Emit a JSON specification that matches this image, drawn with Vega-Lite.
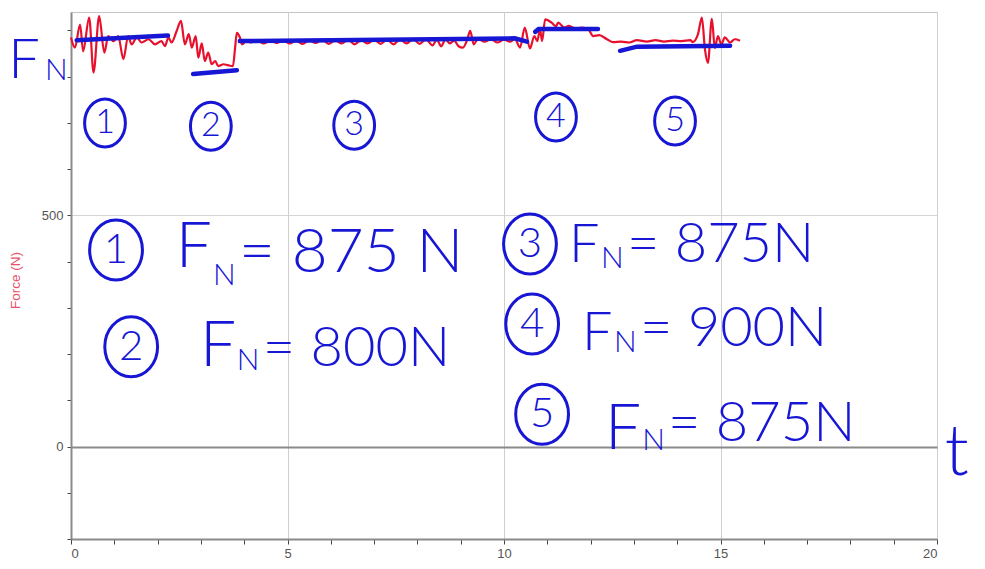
{
  "$schema": "https://vega.github.io/schema/vega-lite/v6.json",
  "width": 866,
  "height": 527,
  "autosize": {"type": "none"},
  "padding": {"left": 71, "top": 12, "right": 48, "bottom": 30},
  "background": "white",
  "config": {
    "view": {"stroke": "#c4c4c4", "strokeWidth": 1},
    "axis": {"labelFont": "Liberation Sans", "titleFont": "Liberation Sans"}
  },
  "datasets": {
    "force": [
      {"t": 0.00, "F": 885}, {"t": 0.09, "F": 863}, {"t": 0.21, "F": 913}, {"t": 0.28, "F": 855},
      {"t": 0.42, "F": 928}, {"t": 0.52, "F": 809}, {"t": 0.65, "F": 931}, {"t": 0.77, "F": 852},
      {"t": 0.86, "F": 888}, {"t": 0.98, "F": 877}, {"t": 1.09, "F": 888}, {"t": 1.21, "F": 838},
      {"t": 1.32, "F": 888}, {"t": 1.40, "F": 870}, {"t": 1.52, "F": 885}, {"t": 1.63, "F": 874},
      {"t": 1.79, "F": 881}, {"t": 1.94, "F": 870}, {"t": 2.09, "F": 877}, {"t": 2.17, "F": 866},
      {"t": 2.25, "F": 885}, {"t": 2.32, "F": 874}, {"t": 2.44, "F": 899}, {"t": 2.54, "F": 921},
      {"t": 2.63, "F": 870}, {"t": 2.72, "F": 892}, {"t": 2.79, "F": 863}, {"t": 2.88, "F": 888},
      {"t": 2.94, "F": 841}, {"t": 3.02, "F": 872}, {"t": 3.09, "F": 834}, {"t": 3.17, "F": 852},
      {"t": 3.25, "F": 827}, {"t": 3.33, "F": 834}, {"t": 3.40, "F": 823}, {"t": 3.52, "F": 827},
      {"t": 3.62, "F": 825}, {"t": 3.74, "F": 823}, {"t": 3.79, "F": 863}, {"t": 3.83, "F": 895},
      {"t": 3.90, "F": 885}, {"t": 3.95, "F": 870}, {"t": 4.05, "F": 878}, {"t": 4.15, "F": 874},
      {"t": 4.30, "F": 879}, {"t": 4.45, "F": 872}, {"t": 4.60, "F": 878}, {"t": 4.75, "F": 873},
      {"t": 4.90, "F": 879}, {"t": 5.05, "F": 872}, {"t": 5.20, "F": 878}, {"t": 5.35, "F": 871},
      {"t": 5.50, "F": 879}, {"t": 5.65, "F": 873}, {"t": 5.80, "F": 880}, {"t": 5.95, "F": 871},
      {"t": 6.10, "F": 879}, {"t": 6.25, "F": 872}, {"t": 6.40, "F": 880}, {"t": 6.55, "F": 870},
      {"t": 6.70, "F": 879}, {"t": 6.85, "F": 872}, {"t": 7.00, "F": 880}, {"t": 7.15, "F": 871},
      {"t": 7.30, "F": 880}, {"t": 7.45, "F": 870}, {"t": 7.60, "F": 881}, {"t": 7.75, "F": 872},
      {"t": 7.90, "F": 882}, {"t": 8.05, "F": 871}, {"t": 8.20, "F": 881}, {"t": 8.35, "F": 868},
      {"t": 8.45, "F": 880}, {"t": 8.55, "F": 866}, {"t": 8.65, "F": 881}, {"t": 8.75, "F": 872},
      {"t": 8.85, "F": 878}, {"t": 8.95, "F": 866}, {"t": 9.05, "F": 863}, {"t": 9.15, "F": 880},
      {"t": 9.22, "F": 899}, {"t": 9.30, "F": 870}, {"t": 9.40, "F": 882}, {"t": 9.55, "F": 876},
      {"t": 9.70, "F": 881}, {"t": 9.85, "F": 874}, {"t": 10.00, "F": 880}, {"t": 10.15, "F": 876},
      {"t": 10.25, "F": 882}, {"t": 10.37, "F": 863}, {"t": 10.48, "F": 906}, {"t": 10.60, "F": 861},
      {"t": 10.70, "F": 888}, {"t": 10.77, "F": 877}, {"t": 10.83, "F": 903}, {"t": 10.88, "F": 877},
      {"t": 10.95, "F": 924}, {"t": 11.10, "F": 917}, {"t": 11.20, "F": 909}, {"t": 11.25, "F": 917},
      {"t": 11.40, "F": 906}, {"t": 11.50, "F": 910}, {"t": 11.65, "F": 904}, {"t": 11.80, "F": 906},
      {"t": 11.95, "F": 902}, {"t": 12.06, "F": 888}, {"t": 12.20, "F": 890}, {"t": 12.38, "F": 881},
      {"t": 12.52, "F": 875}, {"t": 12.70, "F": 876}, {"t": 12.90, "F": 874}, {"t": 13.07, "F": 879},
      {"t": 13.30, "F": 876}, {"t": 13.50, "F": 879}, {"t": 13.70, "F": 876}, {"t": 13.90, "F": 878},
      {"t": 14.10, "F": 877}, {"t": 14.30, "F": 879}, {"t": 14.36, "F": 875}, {"t": 14.48, "F": 892},
      {"t": 14.57, "F": 928}, {"t": 14.64, "F": 860}, {"t": 14.71, "F": 830}, {"t": 14.80, "F": 925},
      {"t": 14.87, "F": 862}, {"t": 14.94, "F": 888}, {"t": 15.02, "F": 870}, {"t": 15.10, "F": 885},
      {"t": 15.22, "F": 874}, {"t": 15.33, "F": 881}, {"t": 15.45, "F": 878}
    ],
    "fits": [
      {"seg": 1, "t": 0.13, "F": 879}, {"seg": 1, "t": 2.24, "F": 889},
      {"seg": 2, "t": 2.82, "F": 806}, {"seg": 2, "t": 3.83, "F": 814},
      {"seg": 3, "t": 3.90, "F": 877}, {"seg": 3, "t": 10.25, "F": 883}, {"seg": 3, "t": 10.53, "F": 876},
      {"seg": 4, "t": 10.72, "F": 897}, {"seg": 4, "t": 10.80, "F": 903}, {"seg": 4, "t": 12.17, "F": 903},
      {"seg": 5, "t": 12.68, "F": 856}, {"seg": 5, "t": 13.07, "F": 865}, {"seg": 5, "t": 15.22, "F": 867}
    ],
    "circles": [
      {"t": 0.785, "F": 700, "num": "1", "kind": "top"},
      {"t": 3.23, "F": 693, "num": "2", "kind": "top"},
      {"t": 6.54, "F": 695, "num": "3", "kind": "top"},
      {"t": 11.2, "F": 713, "num": "4", "kind": "top"},
      {"t": 13.95, "F": 704, "num": "5", "kind": "top"},
      {"t": 1.04, "F": 425, "num": "1", "kind": "row"},
      {"t": 1.39, "F": 216, "num": "2", "kind": "row"},
      {"t": 10.6, "F": 438, "num": "3", "kind": "row"},
      {"t": 10.65, "F": 265, "num": "4", "kind": "row"},
      {"t": 10.88, "F": 70, "num": "5", "kind": "row"}
    ],
    "texts": [
      {"t": 2.42, "F": 388, "label": "F", "kind": "F1"},
      {"t": 2.98, "F": 174, "label": "F", "kind": "F1"},
      {"t": 12.33, "F": -5, "label": "F", "kind": "F1"},
      {"t": 11.50, "F": 399, "label": "F", "kind": "F2"},
      {"t": 11.80, "F": 209, "label": "F", "kind": "F2"},
      {"t": -1.45, "F": 797, "label": "F", "kind": "F3"},
      {"t": 3.88, "F": 378, "label": "= 875 N", "kind": "eq1"},
      {"t": 12.84, "F": 399, "label": "= 875N", "kind": "eq2"},
      {"t": 4.43, "F": 174, "label": "= 800N", "kind": "eq2"},
      {"t": 13.14, "F": 218, "label": "= 900N", "kind": "eq2"},
      {"t": 13.79, "F": 12, "label": "= 875N", "kind": "eq2"},
      {"t": 3.28, "F": 349, "label": "N", "kind": "sub"},
      {"t": 12.24, "F": 386, "label": "N", "kind": "sub"},
      {"t": 3.83, "F": 166, "label": "N", "kind": "sub"},
      {"t": 12.54, "F": 205, "label": "N", "kind": "sub"},
      {"t": 13.19, "F": -7, "label": "N", "kind": "sub"},
      {"t": -0.60, "F": 793, "label": "N", "kind": "sub"},
      {"t": 20.18, "F": -62, "label": "t", "kind": "tee"}
    ]
  },
  "encoding": {
    "x": {
      "field": "t", "type": "quantitative",
      "scale": {"domain": [0, 20], "nice": false, "zero": false},
      "axis": {
        "title": null,
        "values": [0,1,2,3,4,5,6,7,8,9,10,11,12,13,14,15,16,17,18,19,20],
        "format": "d",
        "labelExpr": "datum.value % 5 === 0 ? datum.label : ''",
        "labelOverlap": false,
        "labelFontSize": 13, "labelColor": "#555555", "labelPadding": 3,
        "domainColor": "#8a8a8a", "domainWidth": 2,
        "tickColor": "#444444", "tickSize": 5, "tickWidth": 1,
        "grid": true, "gridColor": "#cfcfcf", "gridWidth": 1,
        "gridOpacity": {"condition": {"test": "datum.value % 5 === 0 && datum.value > 0", "value": 1}, "value": 0}
      }
    },
    "y": {
      "field": "F", "type": "quantitative",
      "scale": {"domain": [-200, 940], "nice": false, "zero": false},
      "axis": {
        "title": "Force (N)",
        "titleColor": "#e8506a", "titleFontSize": 13.5, "titleFontWeight": "normal",
        "titleX": -56, "titleY": 268, "titleAngle": -90, "titleAlign": "center", "titleBaseline": "middle",
        "values": [-200,-100,0,100,200,300,400,500,600,700,800,900],
        "labelExpr": "datum.value === 0 || datum.value === 500 ? datum.label : ''",
        "labelOverlap": false,
        "labelFontSize": 13, "labelColor": "#555555", "labelPadding": 4,
        "domainColor": "#8a8a8a", "domainWidth": 2,
        "tickColor": "#444444", "tickSize": 4, "tickWidth": 1,
        "grid": true,
        "gridColor": {"condition": {"test": "datum.value === 0", "value": "#8a8a8a"}, "value": "#d4d4d4"},
        "gridWidth": {"condition": {"test": "datum.value === 0", "value": 2}, "value": 1},
        "gridOpacity": {"condition": {"test": "datum.value === 0 || datum.value === 500", "value": 1}, "value": 0}
      }
    }
  },
  "layer": [
    {
      "data": {"name": "force"},
      "mark": {"type": "line", "color": "#e8112d", "strokeWidth": 2.2, "interpolate": "monotone"}
    },
    {
      "data": {"name": "fits"},
      "mark": {"type": "line", "color": "#1616d4", "strokeWidth": 4.5, "strokeCap": "round"},
      "encoding": {"detail": {"field": "seg", "type": "nominal"}}
    },
    {
      "data": {"name": "circles"},
      "transform": [{"filter": "datum.kind === 'top'"}],
      "mark": {"type": "point", "shape": "M0,-1A0.85,1 0 1,1 0,1A0.85,1 0 1,1 0,-1Z", "filled": false, "stroke": "#1616d4", "strokeWidth": 3, "size": 2304, "opacity": 1}
    },
    {
      "data": {"name": "circles"},
      "transform": [{"filter": "datum.kind === 'row'"}],
      "mark": {"type": "point", "shape": "M0,-1A0.88,1 0 1,1 0,1A0.88,1 0 1,1 0,-1Z", "filled": false, "stroke": "#1616d4", "strokeWidth": 3, "size": 3600, "opacity": 1}
    },
    {
      "data": {"name": "circles"},
      "transform": [{"filter": "datum.kind === 'top'"}],
      "mark": {"type": "text", "font": "Lato", "fontWeight": 300, "fontSize": 34, "color": "#1616d4", "align": "center", "baseline": "middle"},
      "encoding": {"text": {"field": "num", "type": "nominal"}}
    },
    {
      "data": {"name": "circles"},
      "transform": [{"filter": "datum.kind === 'row'"}],
      "mark": {"type": "text", "font": "Lato", "fontWeight": 300, "fontSize": 42, "color": "#1616d4", "align": "center", "baseline": "middle"},
      "encoding": {"text": {"field": "num", "type": "nominal"}}
    },
    {
      "data": {"name": "texts"},
      "transform": [{"filter": "datum.kind === 'F1'"}],
      "mark": {"type": "text", "font": "Lato", "fontWeight": 300, "fontSize": 64, "color": "#1616d4", "align": "left", "baseline": "alphabetic"},
      "encoding": {"text": {"field": "label", "type": "nominal"}}
    },
    {
      "data": {"name": "texts"},
      "transform": [{"filter": "datum.kind === 'F2'"}],
      "mark": {"type": "text", "font": "Lato", "fontWeight": 300, "fontSize": 54, "color": "#1616d4", "align": "left", "baseline": "alphabetic"},
      "encoding": {"text": {"field": "label", "type": "nominal"}}
    },
    {
      "data": {"name": "texts"},
      "transform": [{"filter": "datum.kind === 'F3'"}],
      "mark": {"type": "text", "font": "Lato", "fontWeight": 300, "fontSize": 56, "color": "#1616d4", "align": "left", "baseline": "alphabetic"},
      "encoding": {"text": {"field": "label", "type": "nominal"}}
    },
    {
      "data": {"name": "texts"},
      "transform": [{"filter": "datum.kind === 'eq1'"}],
      "mark": {"type": "text", "font": "Lato", "fontWeight": 300, "fontSize": 62, "color": "#1616d4", "align": "left", "baseline": "alphabetic"},
      "encoding": {"text": {"field": "label", "type": "nominal"}}
    },
    {
      "data": {"name": "texts"},
      "transform": [{"filter": "datum.kind === 'eq2'"}],
      "mark": {"type": "text", "font": "Lato", "fontWeight": 300, "fontSize": 56, "color": "#1616d4", "align": "left", "baseline": "alphabetic"},
      "encoding": {"text": {"field": "label", "type": "nominal"}}
    },
    {
      "data": {"name": "texts"},
      "transform": [{"filter": "datum.kind === 'sub'"}],
      "mark": {"type": "text", "font": "Lato", "fontWeight": 300, "fontSize": 30, "color": "#1616d4", "align": "left", "baseline": "alphabetic"},
      "encoding": {"text": {"field": "label", "type": "nominal"}}
    },
    {
      "data": {"name": "texts"},
      "transform": [{"filter": "datum.kind === 'tee'"}],
      "mark": {"type": "text", "font": "Lato", "fontWeight": 300, "fontSize": 70, "color": "#1616d4", "align": "left", "baseline": "alphabetic"},
      "encoding": {"text": {"field": "label", "type": "nominal"}}
    }
  ]
}
